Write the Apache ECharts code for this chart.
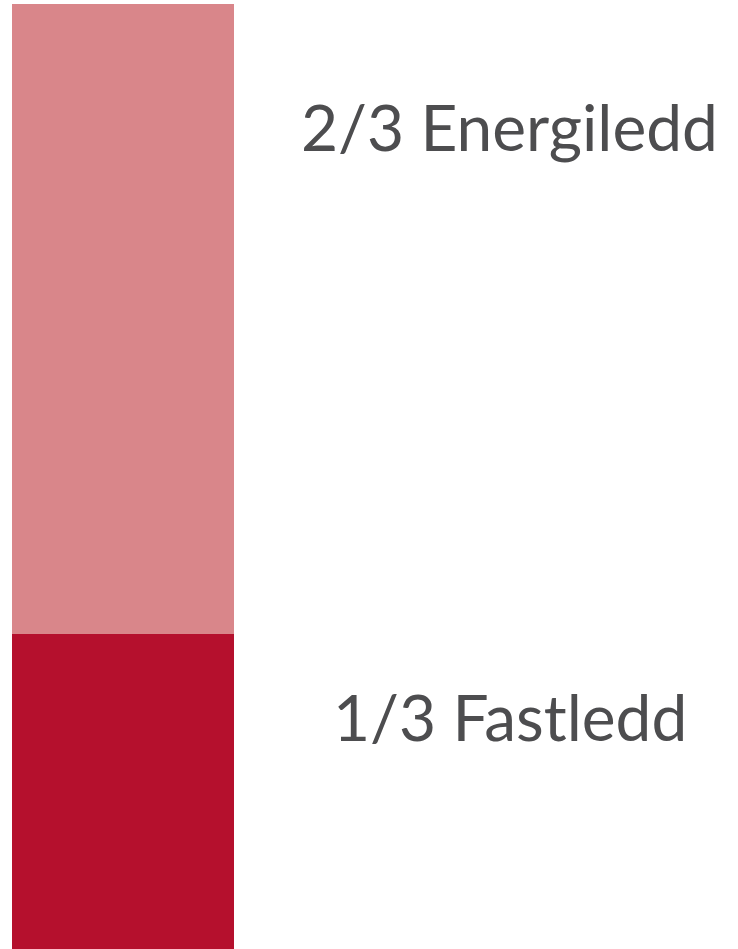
<!DOCTYPE html>
<html>
<head>
<meta charset="utf-8">
<script src="https://cdn.jsdelivr.net/npm/echarts@6/dist/echarts.min.js"></script>
<style>
  html, body { margin: 0; padding: 0; background: #fff; }
  #chart { width: 738px; height: 949px; }
</style>
</head>
<body>
<div id="chart"></div>
<script>
// data
const categories = ['Nettleie'];
const fastledd = [1 / 3];
const energiledd = [2 / 3];
const labels = ['1/3 Fastledd', '2/3 Energiledd'];

const chart = echarts.init(document.getElementById('chart'));

const labelFont = { fontFamily: 'Lato', fontSize: 64, color: '#4d4d4f', verticalAlign: 'middle', align: 'left' };

chart.setOption({
    animation: false,
    grid: { left: 12, top: 4, width: 222, bottom: 0 },
    xAxis: { type: 'category', data: categories, show: false },
    yAxis: { type: 'value', min: 0, max: 1, show: false },
    series: [
        {
            name: 'Fastledd',
            type: 'bar',
            stack: 'total',
            barWidth: '100%',
            data: fastledd,
            itemStyle: { color: '#b5102d' },
            label: { show: true, position: [321, 86], formatter: labels[0], ...labelFont }
        },
        {
            name: 'Energiledd',
            type: 'bar',
            stack: 'total',
            barWidth: '100%',
            data: energiledd,
            itemStyle: { color: '#d9868a' },
            label: { show: true, position: [289, 126], formatter: labels[1], ...labelFont }
        }
    ]
});
</script>
</body>
</html>
